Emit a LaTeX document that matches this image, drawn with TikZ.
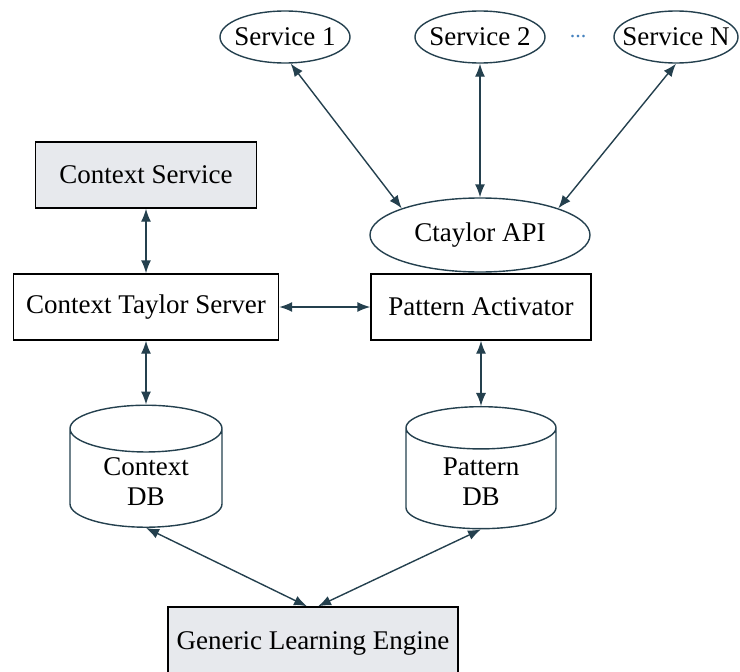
\documentclass[tikz,border=0pt]{standalone}
\usepackage{fontspec}
\setmainfont{Liberation Serif}
\usetikzlibrary{shapes.geometric,arrows.meta}
\definecolor{edgeteal}{RGB}{36,64,78}
\definecolor{boxgray}{RGB}{231,233,237}
\definecolor{dotblue}{RGB}{70,130,190}

\begin{document}
\begin{tikzpicture}[
x=1pt, y=-1pt, % one unit per pixel, y runs downwards
>={Latex[length=13pt,width=10pt]},
line width=1.4pt,
every node/.style={font=\fontsize{27}{30}\selectfont, inner sep=4pt},
box/.style={draw=black, rectangle, minimum height=66pt},
service/.style={draw=edgeteal, ellipse, inner xsep=-20pt, inner ysep=0pt, minimum height=52pt},
store/.style={draw=edgeteal, cylinder, shape border rotate=90, aspect=0.5, align=center}
]
\useasboundingbox (0,0) rectangle (740,672);

% ================= Nodes =================

% Services (Top Row)
\node[service, minimum width=130pt] (S1) at (285, 37) {Service 1};
\node[service, minimum width=130pt] (S2) at (480, 37) {Service 2};
\node[text=dotblue, font=\fontsize{22}{24}\selectfont] (Dots) at (578, 37) {...};
\node[service, minimum width=124pt] (SN) at (676, 37) {Service N};

% API and Activator (Right Column)
\node[draw=edgeteal, ellipse, inner sep=0pt, minimum width=220pt, minimum height=74pt] (API) at (480, 235) {Ctaylor API};
\node[box, minimum width=220pt] (PA) at (481, 307) {Pattern Activator};

% Context side (Left Column)
\node[box, fill=boxgray, minimum width=221pt] (CS) at (146, 175) {Context Service};
\node[box, minimum width=265pt] (CTS) at (146, 307) {Context Taylor Server};

% Databases
\node[store, minimum width=152pt, minimum height=122pt] (CDB) at (146, 482) {Context\\DB};
\node[store, minimum width=150pt, minimum height=122pt] (PDB) at (481, 482) {Pattern\\DB};

% Learning engine (Bottom)
\node[box, fill=boxgray, minimum width=290pt, minimum height=72pt] (GLE) at (313, 643) {Generic Learning Engine};

% ================= Edges =================

% Services to API
\draw[<->, edgeteal] (S1.-78) -- (API.north west);
\draw[<->, edgeteal] (S2.south) -- (API.north);
\draw[<->, edgeteal] (SN.south) -- (API.north east);

% Context side
\draw[<->, edgeteal] (CS.south) -- (CTS.north);
\draw[<->, edgeteal] (CTS.east) -- (PA.west);

% Down to the databases
\draw[<->, edgeteal] (CTS.south) -- (CDB.north);
\draw[<->, edgeteal] (PA.south) -- (PDB.north);

% Databases feeding the engine
\draw[<->, edgeteal] (CDB.south) -- ([xshift=-6pt]GLE.north);
\draw[<->, edgeteal] (PDB.south) -- ([xshift=5pt]GLE.north);

\end{tikzpicture}
\end{document}
